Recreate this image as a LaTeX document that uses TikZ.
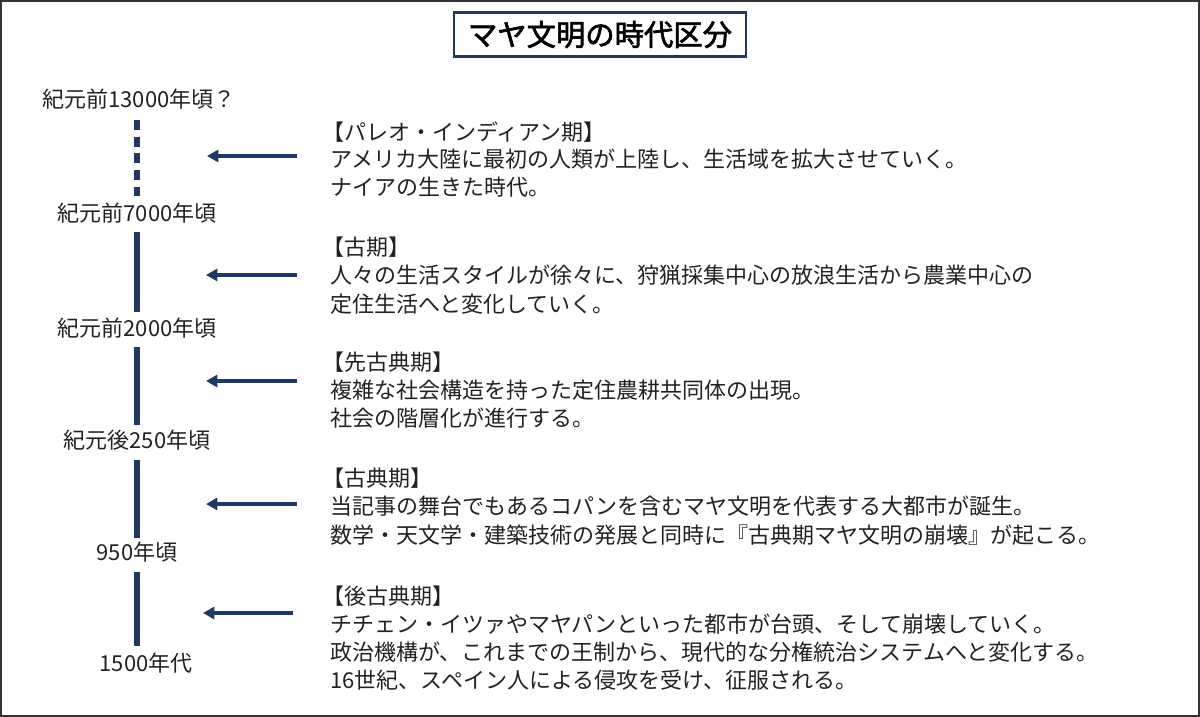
\documentclass[tikz,border=0pt]{standalone}
\usepackage{fontspec}
\setmainfont{Noto Sans CJK JP}
\newfontfamily\titlefont[FakeBold=2.2]{Noto Sans CJK JP}
\usetikzlibrary{arrows.meta}
\definecolor{navy}{HTML}{1F3864}
\definecolor{txt}{HTML}{222222}
\begin{document}
\begin{tikzpicture}[x=0.75pt,y=-0.75pt,
  lab/.style={anchor=base,inner sep=0pt,text=txt,font=\fontsize{16.5pt}{21pt}\selectfont},
  line/.style={anchor=base west,inner sep=0pt,text=txt,font=\fontsize{16.5pt}{21pt}\selectfont},
  seg/.style={draw=navy,line width=4.5pt},
  arr/.style={draw=navy,line width=3pt,-{Triangle[length=8.5pt,width=9pt]}}]
\useasboundingbox (0,0) rectangle (1200,717);
\draw[draw=black!80,line width=1.5pt] (1,1) rectangle (1199,716);
% title
\node[draw=navy,line width=2pt,minimum width=219pt,minimum height=33pt,inner sep=0pt] (title) at (600,34.5)
  {\titlefont\fontsize{22pt}{26pt}\selectfont マヤ文明の時代区分};
% timeline labels
\node[lab] (t0) at (139,108) {紀元前13000年頃？};
\node[lab] (t1) at (137,221) {紀元前7000年頃};
\node[lab] (t2) at (137,336) {紀元前2000年頃};
\node[lab] (t3) at (137,448) {紀元後250年頃};
\node[lab] (t4) at (137,560) {950年頃};
\node[lab] (t5) at (146,671) {1500年代};
% timeline segments
\coordinate (a0) at (137,120); \coordinate (b0) at (137,196);
\coordinate (a1) at (137,232); \coordinate (b1) at (137,312);
\coordinate (a2) at (137,347); \coordinate (b2) at (137,425);
\coordinate (a3) at (137,460); \coordinate (b3) at (137,538);
\coordinate (a4) at (137,572); \coordinate (b4) at (137,646);
\draw[seg,dash pattern=on 7.5pt off 5pt] (a0) -- (b0);
\draw[seg] (a1) -- (b1);
\draw[seg] (a2) -- (b2);
\draw[seg] (a3) -- (b3);
\draw[seg] (a4) -- (b4);
% arrows
\coordinate (p1) at (297,156); \coordinate (q1) at (207,156);
\coordinate (p2) at (297,275); \coordinate (q2) at (206,275);
\coordinate (p3) at (297,381); \coordinate (q3) at (206,381);
\coordinate (p4) at (297,504); \coordinate (q4) at (206,504);
\coordinate (p5) at (293,613); \coordinate (q5) at (203,613);
\draw[arr] (p1) -- (q1);
\draw[arr] (p2) -- (q2);
\draw[arr] (p3) -- (q3);
\draw[arr] (p4) -- (q4);
\draw[arr] (p5) -- (q5);
% block 1
\node[line] (l11) at (322,140) {【パレオ・インディアン期】};
\node[line] (l12) at (330,167) {アメリカ大陸に最初の人類が上陸し、生活域を拡大させていく。};
\node[line] (l13) at (330,195) {ナイアの生きた時代。};
% block 2
\node[line] (l21) at (322,255) {【古期】};
\node[line] (l22) at (330,283) {人々の生活スタイルが徐々に、狩猟採集中心の放浪生活から農業中心の};
\node[line] (l23) at (330,312) {定住生活へと変化していく。};
% block 3
\node[line] (l31) at (322,370) {【先古典期】};
\node[line] (l32) at (330,398) {複雑な社会構造を持った定住農耕共同体の出現。};
\node[line] (l33) at (330,426) {社会の階層化が進行する。};
% block 4
\node[line] (l41) at (322,486) {【古典期】};
\node[line] (l42) at (330,514) {当記事の舞台でもあるコパンを含むマヤ文明を代表する大都市が誕生。};
\node[line] (l43) at (330,543) {数学・天文学・建築技術の発展と同時に『古典期マヤ文明の崩壊』が起こる。};
% block 5
\node[line] (l51) at (322,604) {【後古典期】};
\node[line] (l52) at (330,632) {チチェン・イツァやマヤパンといった都市が台頭、そして崩壊していく。};
\node[line] (l53) at (330,660) {政治機構が、これまでの王制から、現代的な分権統治システムへと変化する。};
\node[line] (l54) at (330,688) {16世紀、スペイン人による侵攻を受け、征服される。};
\end{tikzpicture}
\end{document}
